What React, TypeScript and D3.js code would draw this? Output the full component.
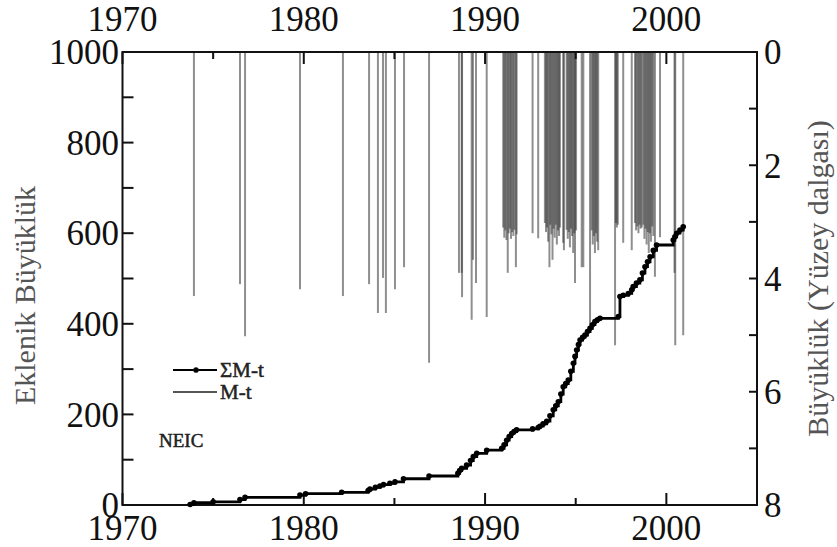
import React from 'react';
import * as d3 from 'd3';

// M-t : individual events (year, surface-wave magnitude)
const eventYears = [
  1973.94, 1976.48, 1976.76, 1979.79, 1982.16, 1983.6, 1984.09, 1984.37, 1984.53, 1985.03, 1985.53, 1986.91, 1988.56,
  1988.71, 1988.73, 1989.26, 1989.33, 1989.5, 1990.09,
  1991.0, 1991.06, 1991.12, 1991.18, 1991.25, 1991.3, 1991.37, 1991.43, 1991.5, 1991.56, 1991.62, 1991.7, 1991.74,
  1992.62, 1992.93,
  1993.3, 1993.36, 1993.42, 1993.48, 1993.55, 1993.6, 1993.66, 1993.72, 1993.78, 1993.84, 1993.9, 1993.96, 1994.02, 1994.08, 1994.13,
  1994.31, 1994.35,
  1994.5, 1994.56, 1994.62, 1994.68, 1994.74, 1994.8, 1994.86, 1994.92, 1994.96, 1995.02,
  1995.33, 1995.42, 1995.79,
  1995.88, 1995.94, 1996.0, 1996.06, 1996.12, 1996.18, 1996.24,
  1997.17, 1997.22, 1997.27, 1997.32, 1997.62, 1998.09,
  1998.27, 1998.33, 1998.4, 1998.46, 1998.52, 1998.58, 1998.64,
  1998.73, 1998.79, 1998.85, 1998.91, 1998.97, 1999.03, 1999.09, 1999.15, 1999.22, 1999.28,
  1999.37, 1999.65, 2000.45, 2000.49, 2000.93,
];
const eventMags = [
  4.31, 4.1, 5.02, 4.19, 4.31, 4.1, 4.61, 3.99, 4.61, 4.19, 3.8, 5.49, 3.9,
  3.9, 4.33, 4.73, 3.67, 4.08, 4.68,
  3.1, 3.28, 3.15, 3.32, 3.9, 3.2, 3.12, 3.3, 3.18, 3.25, 3.14, 3.8, 3.22,
  3.2, 3.29,
  3.02, 3.18, 3.1, 3.35, 3.8, 3.05, 3.22, 3.67, 3.12, 3.28, 3.05, 3.4, 3.15, 3.25, 3.1,
  3.37, 3.5,
  3.14, 3.3, 3.18, 3.45, 3.12, 3.25, 3.55, 3.2, 4.08, 3.15,
  3.8, 3.8, 4.96,
  3.15, 3.4, 3.25, 3.55, 3.2, 3.35, 3.5,
  5.18, 3.02, 3.1, 3.05, 3.37, 3.5,
  3.02, 3.15, 3.08, 3.2, 3.05, 3.12, 3.1,
  3.05, 3.3, 3.12, 3.4, 3.18, 3.55, 3.2, 3.35, 3.08, 3.25,
  3.97, 3.27, 3.9, 5.18, 5.0,
];

// ΣM-t : cumulative magnitude
const cumYears = [
  1973.73, 1973.94, 1975.0, 1976.48, 1976.76, 1979.79, 1980.1, 1982.09, 1983.55, 1983.65, 1983.95, 1984.2, 1984.4,
  1984.75, 1985.03, 1985.5, 1986.91, 1988.5, 1988.6, 1988.71, 1988.98, 1989.2, 1989.35, 1989.54, 1990.09, 1990.92,
  1991.05, 1991.19, 1991.33, 1991.47, 1991.6, 1991.74, 1992.62, 1992.93, 1993.03, 1993.2, 1993.4, 1993.58, 1993.76,
  1993.9, 1994.04, 1994.18, 1994.31, 1994.45, 1994.59, 1994.73, 1994.87, 1994.96, 1995.05, 1995.15, 1995.24, 1995.38,
  1995.51, 1995.65, 1995.79, 1995.92, 1996.06, 1996.2, 1996.34, 1997.35, 1997.44, 1997.62, 1997.9, 1998.09, 1998.17,
  1998.35, 1998.54, 1998.68, 1998.82, 1998.96, 1999.1, 1999.28, 1999.46, 2000.38, 2000.47, 2000.57, 2000.75, 2000.93,
];
const cumValues = [
  1, 5, 7, 12, 17, 22, 25, 28, 32, 35, 39, 42, 45,
  48, 51, 58, 64, 70, 76, 81, 88, 98, 107, 114, 121, 125,
  133, 143, 151, 158, 162, 166, 168, 171, 174, 179, 185, 197, 210,
  219, 228, 245, 261, 268, 276, 295, 313, 328, 342, 354, 364, 370,
  375, 383, 390, 398, 405, 409, 412, 416, 460, 463, 467, 475, 482,
  490, 497, 512, 526, 537, 548, 562, 574, 585, 592, 600, 607, 614,
];

const yearLabels = [1970, 1980, 1990, 2000];
const leftLabels = [0, 200, 400, 600, 800, 1000];
const rightLabels = [0, 2, 4, 6, 8];

const serif = '"Liberation Serif", "Times New Roman", serif';

export default function App() {
  const width = 837, height = 547;
  const left = 122.5, right = 757, top = 52, bottom = 505;

  const x = d3.scaleLinear().domain([1970, 2005]).range([left, right]);
  const yL = d3.scaleLinear().domain([0, 1000]).range([bottom, top]);
  const yR = d3.scaleLinear().domain([0, 8]).range([top, bottom]);

  const cum: [number, number][] = cumYears.map((t, i) => [t, cumValues[i]]);
  const cumLine = d3.line<[number, number]>()
    .x(d => x(d[0]))
    .y(d => yL(d[1]))
    .curve(d3.curveStepAfter);

  const yearTicks = d3.range(1970, 2006, 5);
  const leftTicks = d3.range(0, 1001, 100);
  const rightTicks = d3.range(0, 9, 1);

  return (
    <div style={{ position: 'absolute', left: 0, top: 0 }}>
      <svg width={width} height={height} style={{ display: 'block', background: '#fff' }}>
        {/* M-t vertical lines */}
        <g>
          {eventYears.map((t, i) => (
            <line key={i} x1={x(t)} x2={x(t)} y1={yR(0)} y2={yR(eventMags[i])}
              stroke="#333" strokeOpacity={0.55} strokeWidth={2} />
          ))}
        </g>

        {/* frame */}
        <rect x={left} y={top} width={right - left} height={bottom - top} fill="none" stroke="#111" strokeWidth={2} />

        {/* x ticks bottom & top */}
        {yearTicks.map(t => {
          const len = t % 10 === 0 ? 12 : 7;
          return (
            <g key={t}>
              <line x1={x(t)} x2={x(t)} y1={bottom} y2={bottom - len} stroke="#111" strokeWidth={2} />
              <line x1={x(t)} x2={x(t)} y1={top} y2={top + len} stroke="#111" strokeWidth={2} />
            </g>
          );
        })}
        {leftTicks.map(v => (
          <line key={v} x1={left} x2={left + 11} y1={yL(v)} y2={yL(v)} stroke="#111" strokeWidth={2} />
        ))}
        {rightTicks.map(v => (
          <line key={v} x1={right} x2={right - 8} y1={yR(v)} y2={yR(v)} stroke="#111" strokeWidth={2} />
        ))}

        {/* tick labels */}
        <g fontFamily={serif} fontSize={35} fill="#111">
          {yearLabels.map(t => (
            <g key={t}>
              <text x={x(t)} y={31} textAnchor="middle">{t}</text>
              <text x={x(t)} y={540} textAnchor="middle">{t}</text>
            </g>
          ))}
          {leftLabels.map(v => (
            <text key={v} x={119} y={yL(v)} dy="0.35em" textAnchor="end">{v}</text>
          ))}
          {rightLabels.map(v => (
            <text key={v} x={764} y={yR(v)} dy="0.35em" textAnchor="start">{v}</text>
          ))}
        </g>

        {/* axis titles */}
        <text transform={`translate(35,${(top + bottom) / 2 + 17}) rotate(-90)`} textAnchor="middle"
          fontFamily={serif} fontSize={30} fill="#555">Eklenik Büyüklük</text>
        <text transform={`translate(828,${(top + bottom) / 2}) rotate(-90)`} textAnchor="middle"
          fontFamily={serif} fontSize={30} fill="#555">Büyüklük (Yüzey dalgası)</text>

        {/* ΣM-t cumulative */}
        <path d={cumLine(cum) || ''} fill="none" stroke="#000" strokeWidth={2.8} />
        {cum.map((d, i) => (
          <circle key={i} cx={x(d[0])} cy={yL(d[1])} r={2.8} fill="#000" />
        ))}

        {/* legend */}
        <g fontFamily={serif} fontSize={21} fill="#222" stroke="#222" strokeWidth={0.5}>
          <line x1={173} x2={217} y1={370} y2={370} stroke="#000" strokeWidth={2.2} />
          <circle cx={196} cy={370} r={2.6} fill="#000" />
          <text x={220} y={377}>ΣM-t</text>
          <line x1={173} x2={217} y1={392} y2={392} stroke="#555" strokeWidth={2.2} />
          <text x={220} y={399}>M-t</text>
          <text x={159} y={447} fontSize={19}>NEIC</text>
        </g>
      </svg>
    </div>
  );
}
